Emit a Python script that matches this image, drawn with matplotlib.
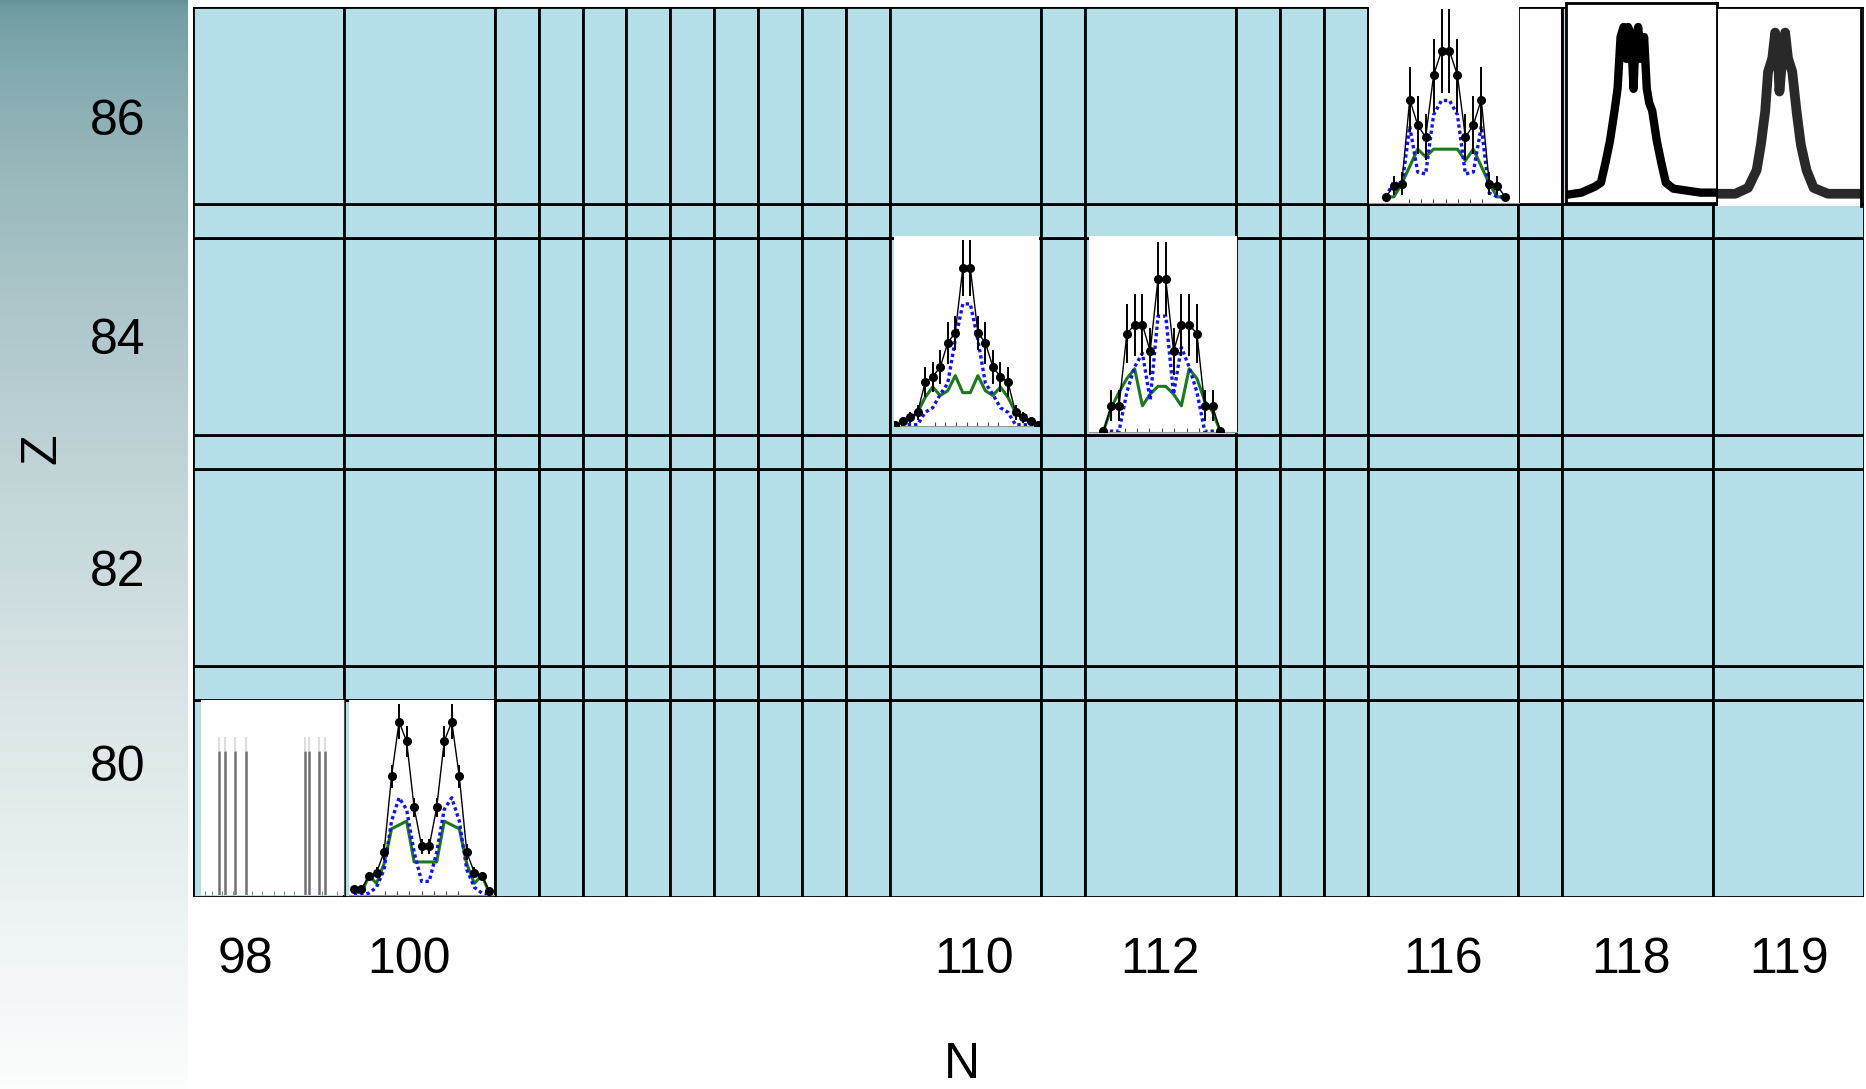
import matplotlib.pyplot as plt
import numpy as np
from matplotlib.patches import Rectangle

plt.rcParams['font.family'] = ['Liberation Sans', 'DejaVu Sans']

# chart grid: neutron number N (columns) and proton number Z (rows)
n_values = [98, 100] + list(range(101, 120))
n_labels = [98, 100, 110, 112, 116, 118, 119]
z_values = [80, 81, 82, 83, 84, 85, 86]
z_labels = [80, 82, 84, 86]
white_cells = [(117, 86)]

# N=98, Z=80 : line spectrum
lines_98 = [0.127, 0.17, 0.237, 0.318, 0.726, 0.76, 0.826, 0.867]
heights_98 = [0.74, 0.74, 0.74, 0.74, 0.74, 0.74, 0.74, 0.74]

# N=100, Z=80 : data (black), two model curves (blue dotted, green)
black_100 = [0.03, 0.03, 0.10, 0.115, 0.22, 0.61, 0.89, 0.79, 0.45, 0.25,
             0.25, 0.45, 0.79, 0.89, 0.61, 0.22, 0.115, 0.10, 0.02]
err_100 = [0.01, 0.02, 0.02, 0.03, 0.04, 0.06, 0.09, 0.08, 0.05, 0.04,
           0.04, 0.05, 0.08, 0.09, 0.06, 0.04, 0.03, 0.02, 0.01]
blue_100 = [0, 0, 0.01, 0.04, 0.13, 0.38, 0.50, 0.44, 0.22, 0.07,
            0.07, 0.22, 0.44, 0.50, 0.38, 0.13, 0.04, 0.01, 0]
green_100 = [0.02, 0.01, 0.10, 0.06, 0.16, 0.34, 0.36, 0.38, 0.17, 0.17,
             0.17, 0.17, 0.38, 0.36, 0.34, 0.16, 0.06, 0.10, 0.01]

# N=110, Z=84
black_110 = [0.0, 0.02, 0.04, 0.066, 0.225, 0.255, 0.305, 0.434, 0.488, 0.83,
             0.83, 0.488, 0.434, 0.305, 0.255, 0.225, 0.066, 0.04, 0.02, 0.0]
err_110 = [0.01, 0.02, 0.03, 0.04, 0.08, 0.08, 0.09, 0.11, 0.09, 0.15,
           0.15, 0.09, 0.11, 0.09, 0.08, 0.08, 0.04, 0.03, 0.02, 0.01]
blue_110 = [0, 0, 0, 0, 0.066, 0.09, 0.16, 0.22, 0.45, 0.64,
            0.64, 0.45, 0.22, 0.16, 0.09, 0.066, 0, 0, 0, 0]
green_110 = [0, 0.015, 0.03, 0.066, 0.145, 0.20, 0.155, 0.18, 0.26, 0.17,
             0.17, 0.26, 0.18, 0.155, 0.20, 0.145, 0.066, 0.03, 0.015, 0]

# N=112, Z=84
black_112 = [0.0, 0.13, 0.13, 0.50, 0.546, 0.546, 0.41, 0.78,
             0.78, 0.41, 0.546, 0.546, 0.50, 0.13, 0.13, 0.0]
err_112 = [0.02, 0.08, 0.08, 0.15, 0.16, 0.16, 0.12, 0.19,
           0.19, 0.12, 0.16, 0.16, 0.15, 0.08, 0.08, 0.02]
blue_112 = [0, 0, 0, 0.2, 0.33, 0.40, 0.16, 0.59,
            0.59, 0.19, 0.43, 0.33, 0.2, 0, 0, 0]
green_112 = [0, 0.12, 0.2, 0.27, 0.32, 0.13, 0.19, 0.23,
             0.23, 0.19, 0.13, 0.32, 0.27, 0.155, 0.10, 0]

# N=116, Z=86
black_116 = [0.0, 0.058, 0.07, 0.51, 0.377, 0.312, 0.637, 0.765,
             0.765, 0.637, 0.312, 0.377, 0.51, 0.07, 0.058, 0.0]
err_116 = [0.01, 0.05, 0.06, 0.17, 0.15, 0.12, 0.19, 0.22,
           0.22, 0.19, 0.12, 0.15, 0.17, 0.06, 0.05, 0.01]
blue_116 = [0, 0.08, 0.05, 0.37, 0.13, 0.12, 0.43, 0.505,
            0.505, 0.43, 0.12, 0.13, 0.37, 0.02, 0, 0]
green_116 = [0, 0, 0.07, 0.16, 0.25, 0.21, 0.25, 0.25,
             0.25, 0.25, 0.19, 0.25, 0.16, 0.07, 0, 0]

# N=118, Z=86 and N=119, Z=86 : measured profiles
x_118 = [1, 10, 19, 23, 26, 29, 32, 34, 36, 38, 40, 41, 43, 44.6, 46, 47.7,
         49.5, 51.6, 53.4, 55, 57, 60, 63, 66, 71, 80, 89, 97]
y_118 = [0.04, 0.05, 0.08, 0.10, 0.20, 0.31, 0.46, 0.57, 0.83, 0.88, 0.72,
         0.88, 0.83, 0.57, 0.83, 0.88, 0.72, 0.83, 0.57, 0.50, 0.46, 0.31,
         0.20, 0.10, 0.07, 0.06, 0.05, 0.05]
x_119 = [1, 12, 21, 27, 30, 33, 35, 38, 40, 42, 43, 45, 47, 49, 52, 55, 58,
         62, 67, 77, 99]
y_119 = [0.06, 0.06, 0.09, 0.18, 0.31, 0.48, 0.68, 0.75, 0.88, 0.75, 0.58,
         0.75, 0.88, 0.75, 0.68, 0.48, 0.31, 0.18, 0.09, 0.06, 0.06]

# ---- layout / style ----
W_X, N_X = 127, 37      # wide / narrow column width
W_Y, N_Y = 165, 29      # wide / narrow row height
CELL_BLUE = '#b4dfe9'
GRID_LW = 2.0
FS = 36

col_w = np.array([W_X if n in n_labels else N_X for n in n_values])
row_h = np.array([W_Y if z in z_labels else N_Y for z in z_values])
x_edges = np.concatenate([[0], np.cumsum(col_w)])
y_edges = np.concatenate([[0], np.cumsum(row_h)])

fig = plt.figure(figsize=(18.66, 10.89), dpi=100)

# shaded band on the left
gax = fig.add_axes([0, 0, 188 / 1866, 1])
t = np.linspace(0, 1, 300) ** 0.6
top = np.array([102, 150, 156]) / 255
bottom = np.array([252, 253, 253]) / 255
grad = top[None, :] + (bottom - top)[None, :] * t[:, None]
gax.imshow(grad[:, None, :], aspect='auto', extent=[0, 1, 0, 1])
gax.axis('off')

ax = fig.add_axes([193 / 1866, 1 - 897 / 1089, 1671 / 1866, 890 / 1089])
ax.set_xlim(0, x_edges[-1])
ax.set_ylim(0, y_edges[-1])
for s in ax.spines.values():
    s.set_visible(False)

for i, n in enumerate(n_values):
    for j, z in enumerate(z_values):
        fc = 'white' if (n, z) in white_cells else CELL_BLUE
        ax.add_patch(Rectangle((x_edges[i], y_edges[j]), col_w[i], row_h[j],
                               facecolor=fc, edgecolor='black', lw=GRID_LW))

# tick labels (small nudges where the original labels sit off-centre)
x_nudge = {98: -19, 100: -9, 110: 7, 118: -6}
y_nudge = {80: 30, 86: -10}
xt = [x_edges[n_values.index(n)] + col_w[n_values.index(n)] / 2 + x_nudge.get(n, 0)
      for n in n_labels]
yt = [y_edges[z_values.index(z)] + row_h[z_values.index(z)] / 2 + y_nudge.get(z, 0)
      for z in z_labels]
ax.set_xticks(xt, [str(n) for n in n_labels])
ax.set_yticks(yt, [str(z) for z in z_labels])
ax.tick_params(axis='x', length=0, labelsize=FS, pad=29)
ax.tick_params(axis='y', length=0, labelsize=FS, pad=34)

fig.text(42 / 1866, 1 - 449 / 1089, 'Z', rotation=90, fontsize=FS,
         ha='center', va='center')
fig.text(962 / 1866, 1 - 1065 / 1089, 'N', fontsize=FS, ha='center', va='center')


def cell_inset(n, z, frac):
    i, j = n_values.index(n), z_values.index(z)
    bounds = [x_edges[i] + frac[0] * col_w[i], y_edges[j] + frac[1] * row_h[j],
              frac[2] * col_w[i], frac[3] * row_h[j]]
    iax = ax.inset_axes(bounds, transform=ax.transData, zorder=3)
    iax.set_facecolor('white')
    for s in iax.spines.values():
        s.set_visible(False)
    iax.set_yticks([])
    return iax


def peak_panel(iax, black, err, blue, green, xlim, ylim, tick_step):
    x = np.arange(len(black))
    iax.plot(x, green, color='#197a19', lw=2.2, zorder=2)
    iax.plot(x, blue, color='#1010ff', lw=2.4, ls=(0, (1.0, 0.9)), zorder=3)
    iax.errorbar(x, black, yerr=err, fmt='o-', color='black', ms=5.5, lw=1.0,
                 elinewidth=1.4, capsize=0, zorder=4)
    iax.set_xlim(*xlim)
    iax.set_ylim(*ylim)
    c = (len(black) - 1) / 2
    iax.set_xticks(c + tick_step * np.arange(-3, 4), [])
    iax.tick_params(axis='x', direction='in', length=3, width=0.8, color='#444')
    iax.spines['bottom'].set_visible(True)
    iax.spines['bottom'].set_color('#999')
    iax.spines['bottom'].set_linewidth(0.8)


# spectrum cell
a98 = cell_inset(98, 80, [0.05, 0.01, 0.95, 0.99])
a98.vlines(lines_98, 0, heights_98, color='#707070', lw=1.8)
a98.vlines(lines_98, np.array(heights_98), np.array(heights_98) + 0.07,
           color='#dddddd', lw=1.5)
a98.set_xlim(0, 1)
a98.set_ylim(0, 1)
a98.set_xticks([0.03, 0.08, 0.15, 0.23, 0.36, 0.43, 0.51, 0.58, 0.65, 0.85, 0.95], [])
a98.tick_params(axis='x', direction='in', length=3, width=0.8, color='#888')
a98.spines['right'].set_visible(True)
a98.spines['right'].set_color('#555')
a98.spines['right'].set_linewidth(0.8)

peak_panel(cell_inset(100, 80, [0.035, 0.01, 0.96, 0.99]),
           black_100, err_100, blue_100, green_100, (-0.64, 18.6), (0, 1.0), 1.63)
peak_panel(cell_inset(110, 84, [0.026, 0.046, 0.96, 0.965]),
           black_110, err_110, blue_110, green_110, (-0.13, 19.1), (-0.005, 1.0), 1.4)
peak_panel(cell_inset(112, 84, [0.026, 0.015, 0.98, 0.995]),
           black_112, err_112, blue_112, green_112, (-1.88, 17.1), (-0.003, 1.0), 1.6)
peak_panel(cell_inset(116, 86, [0.007, 0.005, 1.0, 1.0]),
           black_116, err_116, blue_116, green_116, (-2.17, 16.8), (-0.03, 1.0), 1.55)

a118 = cell_inset(118, 86, [0.026, 0.005, 1.0, 1.015])
a118.plot(x_118, y_118, color='black', lw=6, solid_joinstyle='round')
a118.set_xlim(0, 100)
a118.set_ylim(0, 1)
a118.set_xticks([])
for s in a118.spines.values():
    s.set_visible(True)
    s.set_linewidth(2.0)
    s.set_linestyle((0, (3, 1)))

a119 = cell_inset(119, 86, [0.033, -0.01, 0.945, 1.0])
a119.plot(x_119, y_119, color='#111111', lw=7, alpha=0.9, solid_joinstyle='round')
a119.set_xlim(0, 100)
a119.set_ylim(0, 1)
a119.set_xticks([])
a119.spines['right'].set_visible(True)
a119.spines['right'].set_linewidth(2.0)

fig.savefig('out.png', dpi=100)
